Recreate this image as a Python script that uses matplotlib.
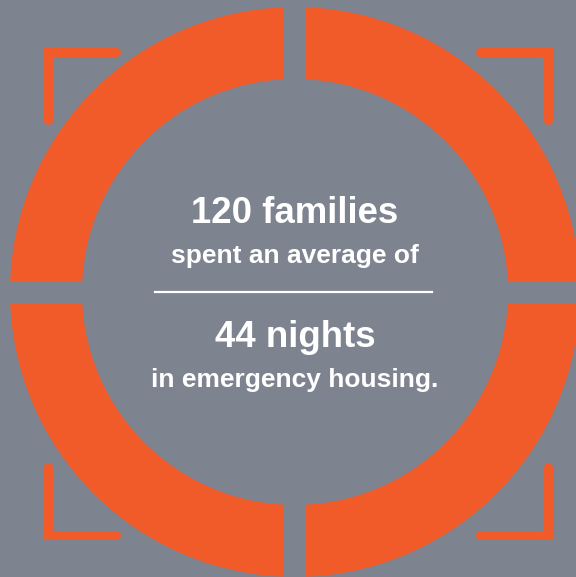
import matplotlib.pyplot as plt
from matplotlib.patches import Wedge, Rectangle

# values shown in the graphic
families = 120
nights = 44
headline = f"{families} families"
subline = "spent an average of"
headline2 = f"{nights} nights"
subline2 = "in emergency housing."

# ring split in four equal parts
segments = [1, 1, 1, 1]

bg = '#7e8390'
orange = '#f15a29'

fig = plt.figure(figsize=(5.76, 5.77), dpi=100, facecolor=bg)
ax = fig.add_axes([0, 0, 1, 1])
ax.set_facecolor(bg)
ax.set_xlim(0, 576)
ax.set_ylim(577, 0)
ax.axis('off')

cx, cy = 295, 292
r_out, r_in = 285, 213

# ring segments
start = 0
total = sum(segments)
for s in segments:
    ang = 360 * s / total
    ax.add_patch(Wedge((cx, cy), r_out, start, start + ang, width=r_out - r_in,
                       facecolor=orange, edgecolor='none'))
    start += ang

# straight gaps between segments
gap = 22.5
ax.add_patch(Rectangle((cx - gap / 2, cy - r_out - 5), gap, 2 * r_out + 10,
                       facecolor=bg, edgecolor='none', zorder=2))
ax.add_patch(Rectangle((cx - r_out - 5, cy - gap / 2), 2 * r_out + 10, gap,
                       facecolor=bg, edgecolor='none', zorder=2))

# corner brackets
lw = 6.5
arm = 68
corners = [(48, 52, 1, 1), (548, 52, -1, 1), (48, 535, 1, -1), (548, 535, -1, -1)]
for x0, y0, dx, dy in corners:
    ax.plot([x0 + dx * arm, x0, x0], [y0, y0, y0 + dy * arm], color=orange, lw=lw,
            solid_capstyle='round', solid_joinstyle='miter', zorder=3)

font = 'Liberation Sans'
ax.text(cx, 223, headline, color='white', fontsize=26.4, fontweight='bold',
        family=font, ha='center', va='baseline', zorder=4)
ax.text(cx, 263, subline, color='white', fontsize=19, fontweight='bold',
        family=font, ha='center', va='baseline', zorder=4)
ax.plot([155, 432], [292, 292], color='white', lw=1.6, zorder=4)
ax.text(cx, 347, headline2, color='white', fontsize=26.4, fontweight='bold',
        family=font, ha='center', va='baseline', zorder=4)
ax.text(cx, 387, subline2, color='white', fontsize=19, fontweight='bold',
        family=font, ha='center', va='baseline', zorder=4)

fig.savefig('out.png', dpi=100, facecolor=bg)
